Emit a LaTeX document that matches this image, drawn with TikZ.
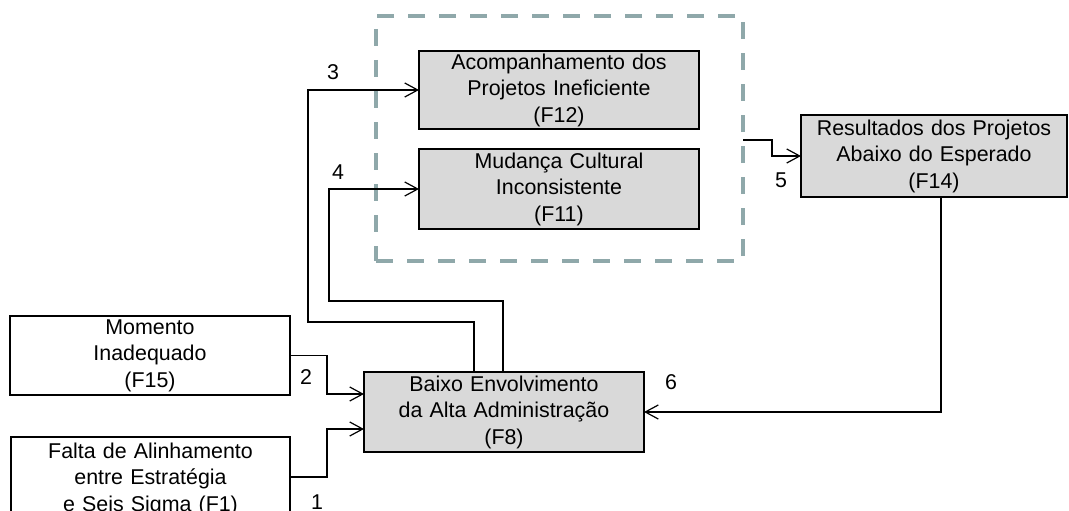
\documentclass[tikz,border=0pt]{standalone}
\usepackage{fontspec}
\setmainfont{Liberation Sans}
\usetikzlibrary{arrows.meta,calc}
\definecolor{boxfill}{RGB}{217,217,217}
\definecolor{dashcol}{RGB}{143,168,170}
\begin{document}
\begin{tikzpicture}[x=1pt,y=-1pt,
  box/.style={draw, line width=1.5pt, outer sep=0pt, inner sep=0pt, align=center,
    font=\fontsize{21.4}{26.5}\selectfont, text width=270pt},
  gbox/.style={box, fill=boxfill},
  wbox/.style={box, fill=white},
  conn/.style={line width=1.2pt, -{Straight Barb[length=13pt,width=14pt,line width=1.2pt]}},
  lbl/.style={font=\fontsize{21.4}{26.5}\selectfont, inner sep=0pt},
  grpbox/.style={draw=dashcol, line width=4pt, dash pattern=on 17pt off 14pt,
    minimum width=367pt, minimum height=245pt, outer sep=0pt, inner sep=0pt}
]
\useasboundingbox (0,0) rectangle (1069,511);
\clip (0,0) rectangle (1069,511);

\node[gbox, minimum width=280pt, minimum height=78pt] (f12) at (559,90)
  {Acompanhamento dos\\Projetos Ineficiente\\(F12)};
\node[gbox, minimum width=280pt, minimum height=80pt] (f11) at (559,189)
  {Mudança Cultural\\Inconsistente\\(F11)};
\node[grpbox] (grp) at (559.5,138.5) {};
\node[gbox, minimum width=266pt, minimum height=82pt, text width=262pt] (f14) at (934,156)
  {Resultados dos Projetos\\Abaixo do Esperado\\(F14)};
\node[wbox, minimum width=280pt, minimum height=79pt] (f15) at (150,355.5)
  {Momento\\Inadequado\\(F15)};
\node[wbox, minimum width=279pt, minimum height=84pt] (f1) at (150.5,479)
  {Falta de Alinhamento\\entre Estratégia\\e Seis Sigma (F1)};
\node[gbox, minimum width=280pt, minimum height=80pt] (f8) at (504,412)
  {Baixo Envolvimento\\da Alta Administração\\(F8)};

% connectors
\draw[conn] ($(f1.east)+(0,-2)$) -- ++(37,0) |- ($(f8.west)+(0,17)$);
\draw[conn] (f15.east) -- ++(37,0) |- ($(f8.west)+(0,-18)$);
\draw[conn] ($(f8.north)+(-30,0)$) -- ++(0,-50) -- ++(-166,0) |- (f12.west);
\draw[conn] ($(f8.north)+(-1,0)$) -- ++(0,-71) -- ++(-174,0) |- (f11.west);
\draw[conn] ($(grp.east)+(0,1.5)$) -- ++(29,0) |- (f14.west);
\draw[conn] ($(f14.south)+(7,0)$) |- (f8.east);

% labels
\node[lbl] (l1) at (317,502) {1};
\node[lbl] (l2) at (306,377) {2};
\node[lbl] (l3) at (333,72) {3};
\node[lbl] (l4) at (338,172) {4};
\node[lbl] (l5) at (781,180) {5};
\node[lbl] (l6) at (671,382) {6};
\end{tikzpicture}
\end{document}
